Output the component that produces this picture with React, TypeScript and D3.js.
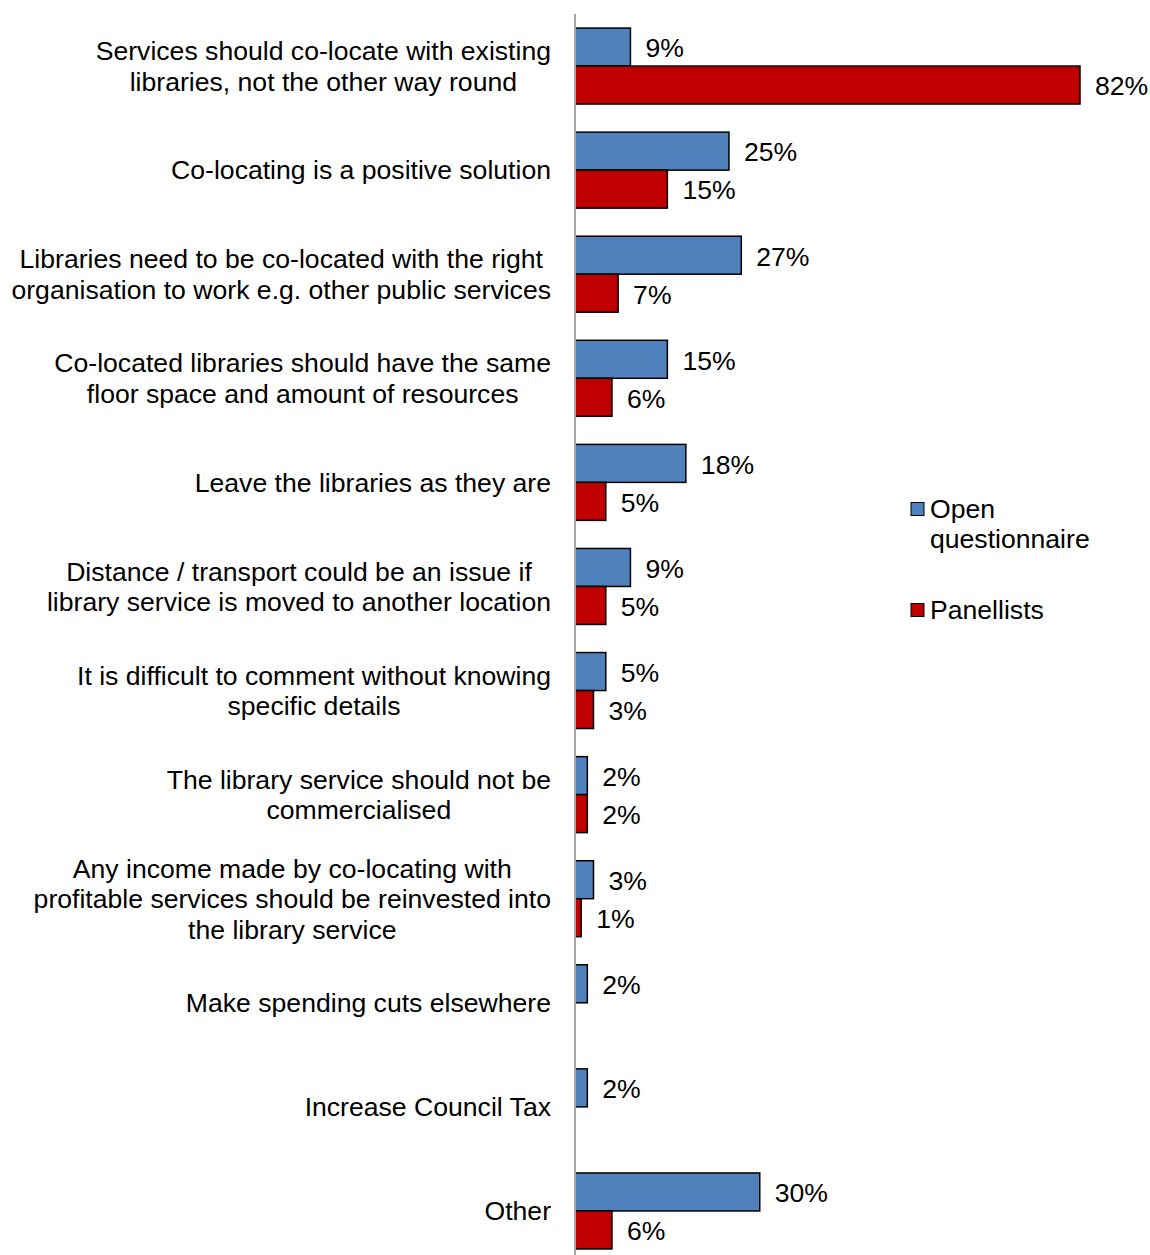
import React, { useEffect, useRef } from "react";
import * as d3 from "d3";

const categories: string[][] = [
  ["Services should co-locate with existing", "libraries, not the other way round"],
  ["Co-locating is a positive solution"],
  ["Libraries need to be co-located with the right", "organisation to work e.g. other public services"],
  ["Co-located libraries should have the same", "floor space and amount of resources"],
  ["Leave the libraries as they are"],
  ["Distance / transport could be an issue if", "library service is moved to another location"],
  ["It is difficult to comment without knowing", "specific details"],
  ["The library service should not be", "commercialised"],
  ["Any income made by co-locating with", "profitable services should be reinvested into", "the library service"],
  ["Make spending cuts elsewhere"],
  ["Increase Council Tax"],
  ["Other"],
];
const openQuestionnaire: (number | null)[] = [9, 25, 27, 15, 18, 9, 5, 2, 3, 2, 2, 30];
const panellists: (number | null)[] = [82, 15, 7, 6, 5, 5, 3, 2, 1, null, null, 6];
const seriesNames = ["Open questionnaire", "Panellists"];
const seriesColors = ["#4f81bd", "#c00000"];

const W = 1150;
const H = 1255;
const FONT = "'Liberation Sans', Arial, sans-serif";
const FS = 26.6;

export default function App() {
  const ref = useRef<SVGSVGElement>(null);

  useEffect(() => {
    const svg = d3.select(ref.current);
    svg.selectAll("*").remove();

    const idx = categories.map((_, i) => String(i));
    const y = d3.scaleBand<string>().domain(idx).range([14, 1263]).paddingInner(0.27).paddingOuter(0.135);
    const x = d3.scaleLinear().domain([0, 82]).range([575, 1080]);
    const sub = d3.scaleBand<number>().domain([0, 1]).range([0, y.bandwidth()]);

    const series = [openQuestionnaire, panellists];

    // bars
    series.forEach((vals, s) => {
      const g = svg.append("g");
      vals.forEach((v, i) => {
        if (v == null) return;
        const y0 = (y(String(i)) as number) + (sub(s) as number);
        g.append("rect")
          .attr("x", x(0))
          .attr("y", y0)
          .attr("width", x(v) - x(0))
          .attr("height", sub.bandwidth())
          .attr("fill", seriesColors[s])
          .attr("stroke", "#000")
          .attr("stroke-width", 1.5);
        g.append("text")
          .attr("x", x(v) + 15)
          .attr("y", y0 + sub.bandwidth() / 2 + 1)
          .attr("dy", "0.35em")
          .attr("font-family", FONT)
          .attr("font-size", FS)
          .attr("fill", "#000")
          .text(`${v}%`);
      });
    });

    // axis line
    svg.append("line")
      .attr("x1", x(0)).attr("x2", x(0))
      .attr("y1", 14).attr("y2", H)
      .attr("stroke", "#a6a6a6").attr("stroke-width", 2);

    // category labels
    const lh = 30.5;
    categories.forEach((lines, i) => {
      const cy = (y(String(i)) as number) + y.bandwidth() / 2;
      const g = svg.append("g");
      const texts = lines.map((ln, k) =>
        g.append("text")
          .attr("y", cy + (k - (lines.length - 1) / 2) * lh)
          .attr("dy", "0.35em")
          .attr("font-family", FONT)
          .attr("font-size", FS)
          .attr("text-anchor", "middle")
          .attr("fill", "#000")
          .text(ln)
      );
      const maxW = d3.max(texts, (t) => (t.node() as SVGTextElement).getComputedTextLength()) || 0;
      texts.forEach((t) => t.attr("x", 551 - maxW / 2));
    });

    // legend
    const leg = svg.append("g");
    const legItems = [
      { lines: ["Open", "questionnaire"], y: 509 },
      { lines: ["Panellists"], y: 610 },
    ];
    legItems.forEach((it, s) => {
      leg.append("rect")
        .attr("x", 911).attr("y", it.y - 6.5)
        .attr("width", 13).attr("height", 13)
        .attr("fill", seriesColors[s]).attr("stroke", "#000").attr("stroke-width", 1);
      it.lines.forEach((ln, k) => {
        leg.append("text")
          .attr("x", 930).attr("y", it.y + k * 30)
          .attr("dy", "0.35em")
          .attr("font-family", FONT)
          .attr("font-size", FS)
          .attr("fill", "#000")
          .text(ln);
      });
    });
    void seriesNames;
  }, []);

  return (
    <svg
      ref={ref}
      width={W}
      height={H}
      style={{ position: "absolute", left: 0, top: 0, background: "#fff" }}
    />
  );
}
